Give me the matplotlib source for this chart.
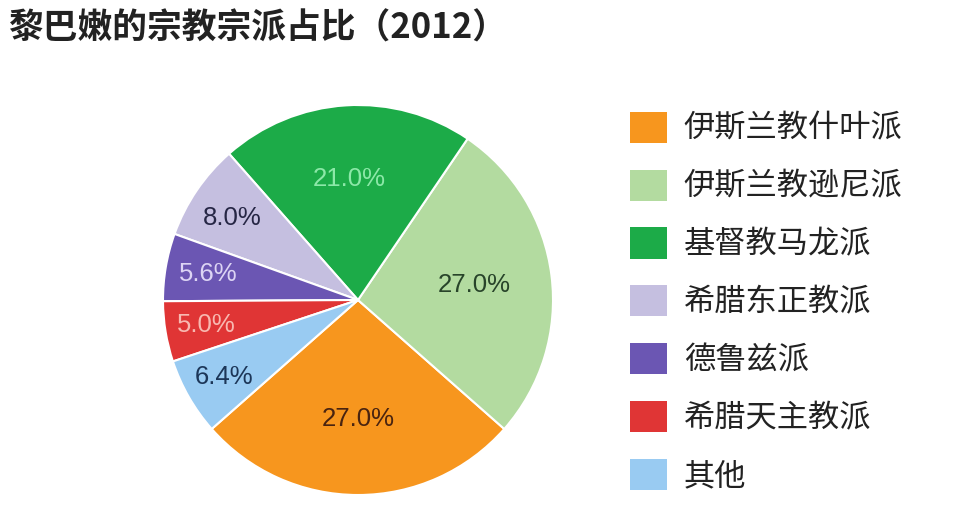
import numpy as np
import matplotlib
matplotlib.use("Agg")
import matplotlib.pyplot as plt
from matplotlib.patches import Patch

plt.rcParams['font.family'] = ['Noto Sans CJK SC', 'DejaVu Sans']

title = "黎巴嫩的宗教宗派占比（2012）"
categories = ["伊斯兰教什叶派", "伊斯兰教逊尼派", "基督教马龙派", "希腊东正教派",
              "德鲁兹派", "希腊天主教派", "其他"]
values = [27.0, 27.0, 21.0, 8.0, 5.6, 5.0, 6.4]
colors = ["#f7961e", "#b3dba0", "#1cab48", "#c5bfe0", "#6b56b3", "#e03535", "#99cbf2"]
label_colors = ["#4a2410", "#28442a", "#8ce8a8", "#262645", "#dcd4f4", "#f8b8b0", "#1c3658"]
label_radius = [0.61, 0.60, 0.62, 0.77, 0.78, 0.79, 0.79]
label_shift = [0, 0, 0.5, 1, 0, 0, 0]

fig = plt.figure(figsize=(9.6, 5.07), dpi=100)
fig.patch.set_facecolor("white")

ax = fig.add_axes([(358 - 195) / 960, (507 - 495) / 507, 390 / 960, 390 / 507])
wedges, _ = ax.pie(values, colors=colors, startangle=-138.6, counterclock=True,
                   wedgeprops=dict(edgecolor="white", linewidth=1.5))
ax.set_xlim(-1, 1)
ax.set_ylim(-1, 1)
ax.set_aspect("equal")
ax.axis("off")

for w, v, lc, r, s in zip(wedges, values, label_colors, label_radius, label_shift):
    ang = np.deg2rad((w.theta1 + w.theta2) / 2 + s)
    ax.text(r * np.cos(ang), r * np.sin(ang), f"{v:.1f}%", ha="center", va="center",
            fontsize=18.5, color=lc, family="Liberation Sans")

fig.text(8 / 960, 1 - 28 / 507, title, fontsize=25, fontweight="semibold", color="#222222",
         ha="left", va="center")

handles = [Patch(facecolor=c, edgecolor="none") for c in colors]
leg = fig.legend(handles, categories, loc="upper left", bbox_to_anchor=(614 / 960, 1 - 96 / 507),
                 frameon=False, fontsize=22.5, handlelength=1.18, handleheight=1.16,
                 labelspacing=0.79, handletextpad=0.55, borderpad=0)
for t in leg.get_texts():
    t.set_color("#222222")

fig.savefig("out.png", dpi=100, facecolor="white")
